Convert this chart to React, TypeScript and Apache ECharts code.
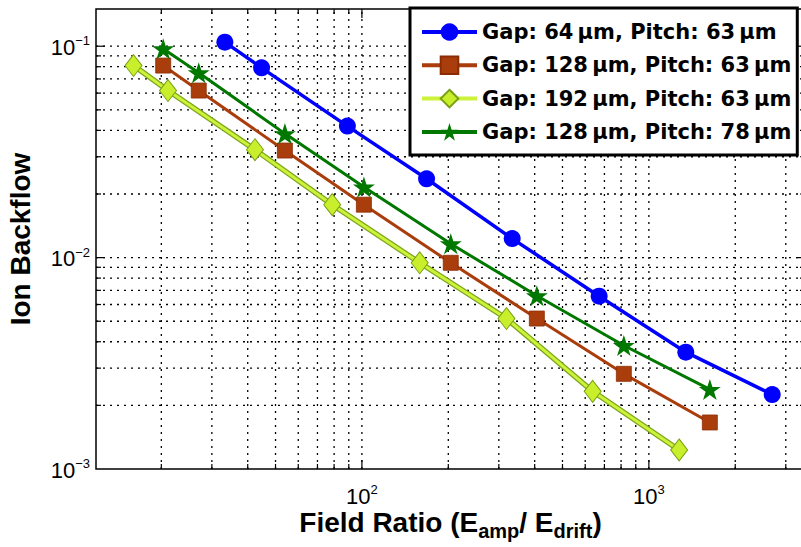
import React, { useEffect, useRef } from "react";
import * as echarts from "echarts";

// Field ratio (E_amp / E_drift) for each measured point
const blueX = [33.3, 44.7, 89, 168, 334, 671, 1345, 2690];
const brownX = [20.3, 27.0, 53.9, 101.6, 204, 407, 818, 1631];
const yellowX = [16.0, 21.1, 42.4, 78.8, 159, 319, 637, 1275];
const greenX = [20.3, 27.0, 53.9, 101.6, 204, 407, 818, 1631];

// Ion backflow fractions
const blueY = [0.1045, 0.079, 0.0419, 0.0236, 0.0123, 0.00657, 0.00357, 0.00225];
const brownY = [0.081, 0.0617, 0.0321, 0.0178, 0.00945, 0.00515, 0.00282, 0.00166];
const yellowY = [0.081, 0.0617, 0.0324, 0.0178, 0.00945, 0.00515, 0.00233, 0.00123];
const greenY = [0.0972, 0.0749, 0.0386, 0.0216, 0.01162, 0.0066, 0.00384, 0.00238];

const seriesNames = [
  "Gap: 64\u2009\u03bcm, Pitch: 63\u2009\u03bcm",
  "Gap: 128\u2009\u03bcm, Pitch: 63\u2009\u03bcm",
  "Gap: 192\u2009\u03bcm, Pitch: 63\u2009\u03bcm",
  "Gap: 128\u2009\u03bcm, Pitch: 78\u2009\u03bcm",
];

// Axis ranges
const X_MIN = 11.84;
const X_MAX = 3500;
const Y_MIN = 0.001;
const Y_MAX = 0.15;

// Grid line positions (decades are major)
const xMajorGrid = [100, 1000];
const xMinorGrid = [20, 30, 40, 50, 60, 70, 80, 90, 200, 300, 400, 500, 600, 700, 800, 900, 2000, 3000];
const yMajorGrid = [0.01, 0.1];
const yMinorGrid = [
  0.002, 0.003, 0.004, 0.005, 0.006, 0.007, 0.008, 0.009,
  0.02, 0.03, 0.04, 0.05, 0.06, 0.07, 0.08, 0.09,
];

const pentagram =
  "path://M0,-1 L0.2245,-0.309 L0.951,-0.309 L0.363,0.118 L0.588,0.809 L0,0.382 L-0.588,0.809 L-0.363,0.118 L-0.951,-0.309 L-0.2245,-0.309 Z";

const colors = {
  blue: "#0000ff",
  brown: "#aa3d0c",
  lime: "#ccf23a",
  limeEdge: "#7da51c",
  green: "#007800",
};

const zip = (xs: number[], ys: number[]) => xs.map((x, i) => [x, ys[i]]);

const powLabel = (v: number) => {
  const e = Math.log10(v);
  const r = Math.round(e);
  if (Math.abs(e - r) > 1e-6) return "";
  return `{b|10}{s|${r < 0 ? "\u2212" : ""}${Math.abs(r)}}`;
};

const labelRich = {
  b: { fontSize: 22, lineHeight: 24, verticalAlign: "bottom", color: "#000", fontFamily: "Liberation Sans" },
  s: { fontSize: 13, lineHeight: 12, verticalAlign: "top", color: "#000", fontFamily: "Liberation Sans" },
};

const dotted = { stroke: "#000", lineWidth: 1.3, lineDash: [2, 5] };
const solid = { stroke: "#000", lineWidth: 1.2 };

export default function App() {
  const ref = useRef<HTMLDivElement>(null);

  useEffect(() => {
    if (!ref.current) return;
    const chart = echarts.init(ref.current, null, { renderer: "svg" });

    const vData = [
      ...xMajorGrid.map((v) => [v, Y_MIN, 1]),
      ...xMinorGrid.map((v) => [v, Y_MIN, 0]),
    ];
    const hData = [
      ...yMajorGrid.map((v) => [X_MIN, v, 1]),
      ...yMinorGrid.map((v) => [X_MIN, v, 0]),
    ];

    chart.setOption({
      animation: false,
      textStyle: { fontFamily: "Liberation Sans", color: "#000" },
      grid: {
        left: 96,
        top: 9,
        width: 709,
        height: 460,
        containLabel: false,
        outerBoundsMode: "none",
        show: true,
        borderColor: "#000",
        borderWidth: 1.5,
        backgroundColor: "#fff",
      },
      legend: {
        orient: "vertical",
        left: 410,
        top: 8,
        itemWidth: 55,
        itemHeight: 22,
        itemGap: 11.3,
        padding: [13, 6, 12, 10],
        backgroundColor: "#fff",
        borderColor: "#000",
        borderWidth: 3,
        textStyle: {
          fontFamily: "DejaVu Sans",
          fontWeight: "bold",
          fontSize: 21,
          lineHeight: 22,
          color: "#000",
        },
        data: [
          { name: seriesNames[0], lineStyle: { width: 4 } },
          { name: seriesNames[1], lineStyle: { width: 4 } },
          { name: seriesNames[2], lineStyle: { width: 4 } },
          { name: seriesNames[3], lineStyle: { width: 4 } },
        ],
      },
      xAxis: {
        type: "log",
        logBase: 10,
        min: X_MIN,
        max: X_MAX,
        axisLine: { show: false },
        axisTick: { show: false },
        splitLine: { show: false },
        axisLabel: { margin: 14, formatter: powLabel, rich: labelRich },
        name: "{n|Field Ratio (E}{sub|amp}{n|/ E}{sub|drift}{n|)}",
        nameLocation: "middle",
        nameGap: 39,
        nameMoveOverlap: false,
        nameTextStyle: {
          rich: {
            n: { fontSize: 28, fontWeight: "bold", lineHeight: 28, verticalAlign: "top", color: "#000", fontFamily: "Liberation Sans" },
            sub: { fontSize: 20, fontWeight: "bold", lineHeight: 20, padding: [17, 0, 0, 0], color: "#000", fontFamily: "Liberation Sans" },
          },
        },
      },
      yAxis: {
        type: "log",
        logBase: 10,
        min: Y_MIN,
        max: Y_MAX,
        axisLine: { show: false },
        axisTick: { show: false },
        splitLine: { show: false },
        axisLabel: { margin: 6, formatter: powLabel, rich: labelRich },
        name: "Ion Backflow",
        nameLocation: "middle",
        nameGap: 62,
        nameMoveOverlap: false,
        nameTextStyle: { fontSize: 28, fontWeight: "bold", color: "#000", fontFamily: "Liberation Sans" },
      },
      series: [
        {
          type: "custom",
          name: "vgrid",
          silent: true,
          z: 1,
          data: vData,
          renderItem: (_p: any, api: any) => {
            const x = api.value(0);
            const major = api.value(2) === 1;
            const b = api.coord([x, Y_MIN]);
            const t = api.coord([x, Y_MAX]);
            const len = major ? 9 : 5;
            return {
              type: "group",
              children: [
                { type: "line", shape: { x1: b[0], y1: b[1], x2: t[0], y2: t[1] }, style: dotted },
                { type: "line", shape: { x1: b[0], y1: b[1], x2: b[0], y2: b[1] - len }, style: solid },
                { type: "line", shape: { x1: t[0], y1: t[1], x2: t[0], y2: t[1] + len }, style: solid },
              ],
            };
          },
        },
        {
          type: "custom",
          name: "hgrid",
          silent: true,
          z: 1,
          data: hData,
          renderItem: (_p: any, api: any) => {
            const y = api.value(1);
            const major = api.value(2) === 1;
            const l = api.coord([X_MIN, y]);
            const r = api.coord([X_MAX, y]);
            const len = major ? 9 : 5;
            return {
              type: "group",
              children: [
                { type: "line", shape: { x1: l[0], y1: l[1], x2: r[0], y2: r[1] }, style: dotted },
                { type: "line", shape: { x1: l[0], y1: l[1], x2: l[0] + len, y2: l[1] }, style: solid },
                { type: "line", shape: { x1: r[0], y1: r[1], x2: r[0] - len, y2: r[1] }, style: solid },
              ],
            };
          },
        },
        {
          type: "line",
          name: seriesNames[0],
          data: zip(blueX, blueY),
          symbol: "circle",
          symbolSize: 17,
          lineStyle: { color: colors.blue, width: 3.5 },
          itemStyle: { color: colors.blue },
          z: 3,
        },
        {
          type: "line",
          name: seriesNames[1],
          data: zip(brownX, brownY),
          symbol: "rect",
          symbolSize: 15,
          lineStyle: { color: colors.brown, width: 3 },
          itemStyle: { color: colors.brown, borderColor: "#8a2c04", borderWidth: 0.8 },
          z: 3,
        },
        {
          type: "line",
          name: "yellowEdge",
          data: zip(yellowX, yellowY),
          symbol: "none",
          lineStyle: { color: colors.limeEdge, width: 5.5 },
          z: 3,
        },
        {
          type: "line",
          name: seriesNames[2],
          data: zip(yellowX, yellowY),
          symbol: "diamond",
          symbolSize: [17, 22],
          lineStyle: { color: colors.lime, width: 3 },
          itemStyle: { color: "#c8ee2c", borderColor: "#78a014", borderWidth: 1 },
          z: 3,
        },
        {
          type: "line",
          name: seriesNames[3],
          data: zip(greenX, greenY),
          symbol: pentagram,
          symbolSize: [22, 21],
          lineStyle: { color: colors.green, width: 3 },
          itemStyle: { color: colors.green },
          z: 3,
        },
      ],
    });

    return () => chart.dispose();
  }, []);

  return (
    <div
      style={{
        position: "fixed",
        left: 0,
        top: 0,
        width: 801,
        height: 547,
        overflow: "hidden",
        background: "#fff",
      }}
    >
      <div ref={ref} style={{ width: 840, height: 547 }} />
    </div>
  );
}
